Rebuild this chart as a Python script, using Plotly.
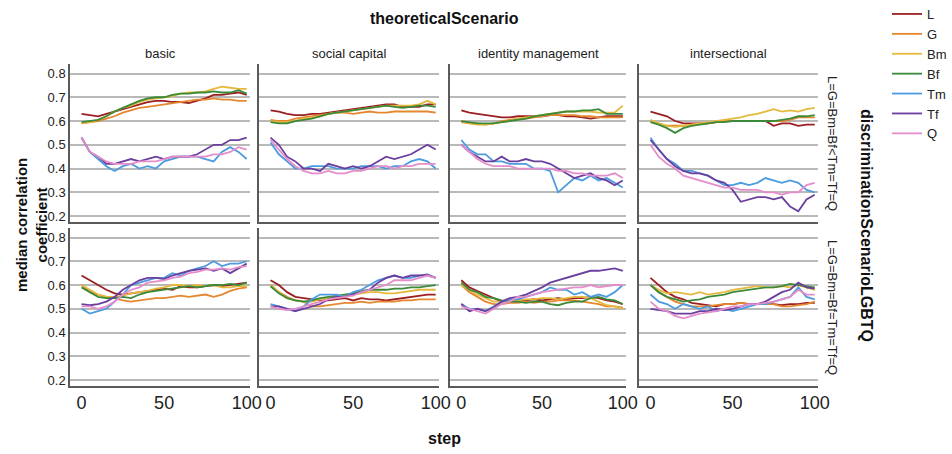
import plotly.graph_objects as go

steps = [0, 5, 10, 15, 20, 25, 30, 35, 40, 45, 50, 55, 60, 65, 70, 75, 80, 85, 90, 95, 100]
series_names = ["L", "G", "Bm", "Bf", "Tm", "Tf", "Q"]
series_colors = ["#9b1f22", "#e5872f", "#e5b93c", "#3b8a3a", "#4c9be0", "#6a3f9e", "#e58dca"]
scenario_cols = ["basic", "social capital", "identity management", "intersectional"]
scenario_rows = ["L=G=Bm=Bf<Tm=Tf=Q", "L=G=Bm=Bf=Tm=Tf=Q"]
y_ticks = [0.2, 0.3, 0.4, 0.5, 0.6, 0.7, 0.8]
x_ticks = [0, 50, 100]

# top row: L=G=Bm=Bf<Tm=Tf=Q
top_basic = {
    "L":  [0.63, 0.625, 0.62, 0.63, 0.64, 0.65, 0.66, 0.67, 0.68, 0.685, 0.685, 0.68, 0.68, 0.675, 0.685, 0.695, 0.71, 0.71, 0.715, 0.72, 0.71],
    "G":  [0.59, 0.595, 0.60, 0.61, 0.62, 0.635, 0.645, 0.655, 0.66, 0.665, 0.67, 0.675, 0.68, 0.685, 0.69, 0.69, 0.695, 0.69, 0.69, 0.685, 0.685],
    "Bm": [0.59, 0.595, 0.605, 0.62, 0.64, 0.655, 0.665, 0.68, 0.69, 0.695, 0.70, 0.705, 0.715, 0.72, 0.72, 0.725, 0.735, 0.745, 0.74, 0.735, 0.735],
    "Bf": [0.595, 0.60, 0.605, 0.62, 0.64, 0.655, 0.67, 0.685, 0.695, 0.70, 0.70, 0.71, 0.715, 0.715, 0.72, 0.72, 0.725, 0.72, 0.72, 0.73, 0.715],
    "Tm": [0.53, 0.47, 0.44, 0.41, 0.39, 0.41, 0.42, 0.40, 0.41, 0.40, 0.43, 0.44, 0.45, 0.45, 0.45, 0.44, 0.43, 0.47, 0.49, 0.47, 0.44],
    "Tf": [0.53, 0.47, 0.45, 0.42, 0.42, 0.43, 0.44, 0.43, 0.44, 0.45, 0.44, 0.45, 0.45, 0.45, 0.46, 0.48, 0.50, 0.50, 0.52, 0.52, 0.53],
    "Q":  [0.53, 0.47, 0.45, 0.43, 0.42, 0.42, 0.42, 0.43, 0.43, 0.43, 0.44, 0.45, 0.45, 0.45, 0.45, 0.45, 0.46, 0.46, 0.47, 0.49, 0.48],
}
top_social = {
    "L":  [0.645, 0.64, 0.63, 0.625, 0.625, 0.63, 0.63, 0.635, 0.64, 0.645, 0.65, 0.655, 0.66, 0.665, 0.67, 0.67, 0.66, 0.66, 0.66, 0.67, 0.67],
    "G":  [0.605, 0.60, 0.60, 0.61, 0.615, 0.62, 0.625, 0.63, 0.635, 0.635, 0.63, 0.635, 0.64, 0.635, 0.635, 0.64, 0.64, 0.64, 0.64, 0.64, 0.635],
    "Bm": [0.60, 0.595, 0.595, 0.60, 0.61, 0.615, 0.62, 0.63, 0.635, 0.64, 0.645, 0.65, 0.655, 0.66, 0.665, 0.665, 0.665, 0.665, 0.67, 0.685, 0.67],
    "Bf": [0.595, 0.59, 0.59, 0.60, 0.605, 0.61, 0.62, 0.63, 0.635, 0.64, 0.645, 0.65, 0.655, 0.66, 0.665, 0.66, 0.655, 0.66, 0.665, 0.665, 0.66],
    "Tm": [0.51, 0.46, 0.43, 0.40, 0.40, 0.41, 0.41, 0.41, 0.40, 0.40, 0.40, 0.41, 0.41, 0.41, 0.40, 0.41, 0.41, 0.43, 0.44, 0.43, 0.40],
    "Tf": [0.53, 0.50, 0.45, 0.43, 0.40, 0.40, 0.39, 0.42, 0.41, 0.40, 0.41, 0.40, 0.41, 0.43, 0.45, 0.44, 0.45, 0.46, 0.48, 0.50, 0.48],
    "Q":  [0.52, 0.48, 0.44, 0.41, 0.39, 0.38, 0.38, 0.39, 0.38, 0.38, 0.39, 0.39, 0.40, 0.41, 0.41, 0.40, 0.41, 0.41, 0.42, 0.42, 0.42],
}
top_identity = {
    "L":  [0.645, 0.635, 0.63, 0.625, 0.62, 0.615, 0.615, 0.62, 0.62, 0.62, 0.62, 0.625, 0.625, 0.62, 0.62, 0.615, 0.61, 0.615, 0.62, 0.62, 0.62],
    "G":  [0.595, 0.59, 0.59, 0.585, 0.59, 0.60, 0.605, 0.61, 0.61, 0.615, 0.62, 0.625, 0.625, 0.625, 0.625, 0.62, 0.62, 0.615, 0.615, 0.615, 0.615],
    "Bm": [0.60, 0.59, 0.585, 0.585, 0.59, 0.595, 0.60, 0.61, 0.615, 0.62, 0.625, 0.63, 0.635, 0.64, 0.64, 0.64, 0.64, 0.635, 0.635, 0.635, 0.665],
    "Bf": [0.60, 0.595, 0.59, 0.59, 0.59, 0.595, 0.60, 0.605, 0.61, 0.62, 0.625, 0.63, 0.635, 0.64, 0.64, 0.645, 0.645, 0.65, 0.63, 0.63, 0.63],
    "Tm": [0.52, 0.48, 0.46, 0.46, 0.43, 0.43, 0.42, 0.42, 0.42, 0.40, 0.40, 0.39, 0.30, 0.33, 0.36, 0.35, 0.37, 0.35, 0.36, 0.34, 0.32],
    "Tf": [0.50, 0.47, 0.45, 0.43, 0.43, 0.45, 0.43, 0.43, 0.44, 0.43, 0.43, 0.42, 0.40, 0.38, 0.36, 0.37, 0.38, 0.36, 0.35, 0.33, 0.35],
    "Q":  [0.50, 0.47, 0.44, 0.42, 0.41, 0.41, 0.41, 0.40, 0.40, 0.40, 0.40, 0.40, 0.39, 0.39, 0.38, 0.38, 0.37, 0.37, 0.37, 0.38, 0.36],
}
top_intersectional = {
    "L":  [0.64, 0.63, 0.62, 0.60, 0.59, 0.59, 0.59, 0.59, 0.595, 0.60, 0.60, 0.60, 0.60, 0.60, 0.60, 0.58, 0.59, 0.59, 0.58, 0.585, 0.585],
    "G":  [0.60, 0.59, 0.58, 0.58, 0.58, 0.585, 0.59, 0.59, 0.595, 0.60, 0.60, 0.60, 0.60, 0.60, 0.60, 0.60, 0.60, 0.605, 0.615, 0.615, 0.615],
    "Bm": [0.605, 0.59, 0.58, 0.575, 0.58, 0.585, 0.59, 0.595, 0.60, 0.605, 0.61, 0.615, 0.625, 0.63, 0.64, 0.65, 0.64, 0.645, 0.64, 0.65, 0.655],
    "Bf": [0.595, 0.585, 0.57, 0.55, 0.57, 0.58, 0.585, 0.59, 0.595, 0.595, 0.60, 0.60, 0.60, 0.60, 0.60, 0.60, 0.605, 0.61, 0.62, 0.62, 0.625],
    "Tm": [0.53, 0.48, 0.44, 0.42, 0.39, 0.39, 0.38, 0.37, 0.35, 0.33, 0.33, 0.34, 0.33, 0.34, 0.36, 0.35, 0.34, 0.35, 0.34, 0.31, 0.30],
    "Tf": [0.52, 0.48, 0.44, 0.41, 0.39, 0.38, 0.38, 0.37, 0.35, 0.34, 0.31, 0.26, 0.27, 0.28, 0.28, 0.27, 0.28, 0.24, 0.22, 0.27, 0.29],
    "Q":  [0.50, 0.45, 0.42, 0.40, 0.37, 0.36, 0.35, 0.34, 0.33, 0.32, 0.32, 0.31, 0.31, 0.31, 0.30, 0.30, 0.29, 0.30, 0.30, 0.33, 0.34],
}
# bottom row: L=G=Bm=Bf=Tm=Tf=Q
bottom_basic = {
    "L":  [0.64, 0.62, 0.60, 0.58, 0.565, 0.56, 0.565, 0.57, 0.575, 0.58, 0.585, 0.58, 0.595, 0.59, 0.59, 0.595, 0.60, 0.595, 0.60, 0.605, 0.61],
    "G":  [0.60, 0.57, 0.56, 0.55, 0.545, 0.535, 0.53, 0.535, 0.54, 0.545, 0.545, 0.55, 0.555, 0.55, 0.555, 0.56, 0.55, 0.56, 0.575, 0.585, 0.59],
    "Bm": [0.60, 0.58, 0.56, 0.55, 0.55, 0.555, 0.565, 0.57, 0.575, 0.585, 0.59, 0.60, 0.60, 0.595, 0.60, 0.595, 0.60, 0.59, 0.59, 0.595, 0.595],
    "Bf": [0.59, 0.57, 0.55, 0.545, 0.545, 0.55, 0.545, 0.56, 0.57, 0.575, 0.58, 0.585, 0.59, 0.595, 0.59, 0.595, 0.60, 0.60, 0.605, 0.60, 0.61],
    "Tm": [0.50, 0.48, 0.49, 0.50, 0.53, 0.56, 0.60, 0.61, 0.62, 0.63, 0.63, 0.65, 0.64, 0.66, 0.67, 0.68, 0.70, 0.68, 0.69, 0.69, 0.70],
    "Tf": [0.52, 0.515, 0.52, 0.53, 0.55, 0.58, 0.60, 0.62, 0.63, 0.63, 0.625, 0.64, 0.65, 0.66, 0.665, 0.67, 0.66, 0.67, 0.65, 0.67, 0.69],
    "Q":  [0.51, 0.51, 0.50, 0.51, 0.53, 0.56, 0.58, 0.59, 0.61, 0.615, 0.62, 0.63, 0.635, 0.65, 0.655, 0.665, 0.665, 0.67, 0.665, 0.675, 0.68],
}
bottom_social = {
    "L":  [0.62, 0.60, 0.57, 0.55, 0.545, 0.54, 0.535, 0.535, 0.54, 0.545, 0.535, 0.545, 0.54, 0.54, 0.535, 0.54, 0.545, 0.55, 0.555, 0.56, 0.56],
    "G":  [0.60, 0.57, 0.55, 0.535, 0.53, 0.51, 0.51, 0.515, 0.52, 0.525, 0.525, 0.53, 0.525, 0.53, 0.53, 0.53, 0.535, 0.535, 0.54, 0.54, 0.54],
    "Bm": [0.60, 0.57, 0.545, 0.535, 0.53, 0.53, 0.54, 0.545, 0.55, 0.555, 0.56, 0.565, 0.57, 0.57, 0.565, 0.565, 0.57, 0.575, 0.58, 0.58, 0.58],
    "Bf": [0.595, 0.565, 0.545, 0.535, 0.53, 0.535, 0.545, 0.55, 0.555, 0.56, 0.565, 0.575, 0.58, 0.58, 0.58, 0.585, 0.585, 0.59, 0.59, 0.595, 0.60],
    "Tm": [0.52, 0.51, 0.50, 0.49, 0.51, 0.54, 0.56, 0.56, 0.56, 0.55, 0.57, 0.58, 0.60, 0.62, 0.63, 0.64, 0.63, 0.63, 0.64, 0.64, 0.63],
    "Tf": [0.51, 0.51, 0.50, 0.49, 0.50, 0.51, 0.52, 0.54, 0.55, 0.55, 0.56, 0.57, 0.58, 0.61, 0.63, 0.64, 0.63, 0.64, 0.64, 0.645, 0.63],
    "Q":  [0.51, 0.50, 0.495, 0.50, 0.51, 0.52, 0.53, 0.54, 0.545, 0.55, 0.555, 0.57, 0.58, 0.59, 0.60, 0.62, 0.62, 0.62, 0.63, 0.64, 0.63],
}
bottom_identity = {
    "L":  [0.62, 0.59, 0.575, 0.56, 0.545, 0.53, 0.53, 0.535, 0.535, 0.54, 0.535, 0.54, 0.545, 0.54, 0.545, 0.545, 0.55, 0.545, 0.535, 0.53, 0.52],
    "G":  [0.60, 0.57, 0.55, 0.53, 0.52, 0.52, 0.525, 0.525, 0.53, 0.525, 0.53, 0.53, 0.535, 0.535, 0.535, 0.53, 0.525, 0.52, 0.51, 0.51, 0.505],
    "Bm": [0.60, 0.58, 0.56, 0.545, 0.53, 0.53, 0.53, 0.535, 0.54, 0.54, 0.545, 0.545, 0.54, 0.545, 0.55, 0.55, 0.545, 0.53, 0.515, 0.51, 0.50],
    "Bf": [0.61, 0.58, 0.57, 0.55, 0.545, 0.535, 0.53, 0.53, 0.525, 0.53, 0.53, 0.52, 0.515, 0.525, 0.53, 0.53, 0.545, 0.55, 0.54, 0.535, 0.52],
    "Tm": [0.52, 0.50, 0.50, 0.49, 0.51, 0.53, 0.54, 0.54, 0.55, 0.56, 0.57, 0.59, 0.58, 0.58, 0.56, 0.57, 0.55, 0.56, 0.55, 0.57, 0.60],
    "Tf": [0.52, 0.49, 0.50, 0.49, 0.505, 0.53, 0.545, 0.55, 0.56, 0.575, 0.59, 0.61, 0.62, 0.63, 0.64, 0.65, 0.66, 0.66, 0.665, 0.67, 0.66],
    "Q":  [0.51, 0.50, 0.49, 0.48, 0.50, 0.52, 0.53, 0.55, 0.55, 0.56, 0.57, 0.575, 0.58, 0.585, 0.59, 0.59, 0.60, 0.59, 0.595, 0.60, 0.60],
}
bottom_intersectional = {
    "L":  [0.63, 0.60, 0.57, 0.55, 0.54, 0.525, 0.52, 0.515, 0.51, 0.52, 0.52, 0.525, 0.52, 0.52, 0.525, 0.52, 0.515, 0.52, 0.52, 0.525, 0.525],
    "G":  [0.60, 0.57, 0.55, 0.53, 0.52, 0.51, 0.51, 0.51, 0.515, 0.52, 0.52, 0.525, 0.52, 0.52, 0.52, 0.52, 0.51, 0.51, 0.515, 0.52, 0.53],
    "Bm": [0.60, 0.58, 0.565, 0.57, 0.565, 0.56, 0.57, 0.56, 0.565, 0.57, 0.58, 0.585, 0.59, 0.595, 0.59, 0.59, 0.595, 0.59, 0.60, 0.59, 0.58],
    "Bf": [0.60, 0.57, 0.55, 0.54, 0.53, 0.535, 0.54, 0.55, 0.555, 0.56, 0.57, 0.575, 0.58, 0.585, 0.59, 0.59, 0.595, 0.605, 0.60, 0.595, 0.59],
    "Tm": [0.56, 0.53, 0.52, 0.50, 0.52, 0.51, 0.50, 0.51, 0.49, 0.50, 0.49, 0.50, 0.51, 0.52, 0.52, 0.53, 0.54, 0.55, 0.59, 0.55, 0.54],
    "Tf": [0.50, 0.495, 0.49, 0.48, 0.48, 0.48, 0.49, 0.49, 0.50, 0.495, 0.50, 0.51, 0.52, 0.52, 0.53, 0.55, 0.57, 0.58, 0.61, 0.59, 0.585],
    "Q":  [0.53, 0.50, 0.49, 0.47, 0.46, 0.47, 0.48, 0.485, 0.49, 0.50, 0.51, 0.51, 0.52, 0.52, 0.525, 0.53, 0.54, 0.55, 0.58, 0.56, 0.56],
}

panels = [
    [top_basic, top_social, top_identity, top_intersectional],
    [bottom_basic, bottom_social, bottom_identity, bottom_intersectional],
]

W, H = 952, 454
ML, MR, MT, MB = 70, 134, 64, 68
PW = W - ML - MR
PH = H - MT - MB
col_px = [(70, 250), (259, 439), (450, 626), (639, 818)]
row_px = [(64, 222), (228, 386)]

def xdom(a, b):
    return [(a - ML) / PW, (b - ML) / PW]

def ydom(top, bottom):
    return [(H - MB - bottom) / PH, (H - MB - top) / PH]

def px_x(px):
    return (px - ML) / PW

def px_y(py):
    return (H - MB - py) / PH

FONT = "Liberation Sans, Arial, sans-serif"
fig = go.Figure()
layout = {}
for r in range(2):
    for c in range(4):
        idx = r * 4 + c + 1
        xa = "x" if idx == 1 else f"x{idx}"
        ya = "y" if idx == 1 else f"y{idx}"
        data = panels[r][c]
        for name, color in zip(series_names, series_colors):
            fig.add_trace(go.Scatter(
                x=steps, y=data[name], mode="lines", name=name,
                line=dict(color=color, width=1.8),
                xaxis=xa, yaxis=ya, showlegend=(idx == 1),
            ))
        xk = "xaxis" if idx == 1 else f"xaxis{idx}"
        yk = "yaxis" if idx == 1 else f"yaxis{idx}"
        layout[xk] = dict(
            domain=xdom(*col_px[c]), anchor=ya, range=[-7, 102],
            tickvals=x_ticks, showticklabels=(r == 1), showgrid=False, zeroline=False,
            showline=True, linecolor="#5a5a5a", linewidth=1.5, ticks="",
            tickfont=dict(size=18, color="#222", family=FONT),
        )
        layout[yk] = dict(
            domain=ydom(*row_px[r]), anchor=xa, range=[0.175, 0.84],
            tickvals=y_ticks, ticktext=[f"{v:.1f}" for v in y_ticks],
            showticklabels=(c == 0), showgrid=True, gridcolor="#b9b9b9", gridwidth=2,
            zeroline=False, showline=True, linecolor="#5a5a5a", linewidth=1.5, ticks="",
            tickfont=dict(size=13, color="#222", family=FONT),
        )

def ann(text, x, y, size, angle=0, color="#222"):
    return dict(text=text, x=px_x(x), y=px_y(y), xref="paper", yref="paper",
                xanchor="center", yanchor="middle", showarrow=False, textangle=angle,
                font=dict(size=size, color=color, family=FONT))

annotations = []
for c, name in enumerate(scenario_cols):
    a, b = col_px[c]
    annotations.append(ann(name, (a + b) / 2, 53, 13))
for r, name in enumerate(scenario_rows):
    t, b = row_px[r]
    annotations.append(ann(name, 833, (t + b) / 2, 13, 90))
annotations.append(ann("<b>discriminationScenarioLGBTQ</b>", 867, 225, 16, 90, "#111"))
annotations.append(ann("<b>theoreticalScenario</b>", 444, 18, 16, 0, "#111"))
annotations.append(ann("<b>step</b>", 444, 438, 16, 0, "#111"))
annotations.append(ann("<b>median correlation<br>coefficient</b>", 31, 225, 15, -90, "#111"))

fig.update_layout(
    width=W, height=H, margin=dict(l=ML, r=MR, t=MT, b=MB, autoexpand=False),
    paper_bgcolor="white", plot_bgcolor="white",
    annotations=annotations,
    legend=dict(x=px_x(887), y=px_y(-1), xanchor="left", yanchor="top",
                font=dict(size=13, color="#222", family=FONT), tracegroupgap=0,
                itemwidth=30, bgcolor="rgba(0,0,0,0)"),
    **layout,
)
fig.write_html("out.html", config={"displayModeBar": False},
               post_script="document.body.style.margin='0';document.body.style.overflow='hidden';")
